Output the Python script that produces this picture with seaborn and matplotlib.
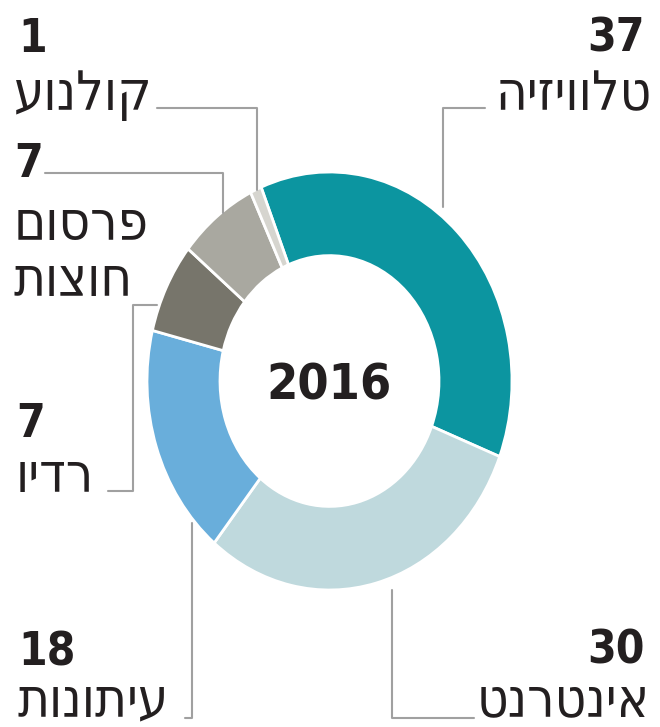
import matplotlib
matplotlib.use("Agg")
import matplotlib.pyplot as plt
import seaborn as sns

# media share, 2016 (clockwise from top)
labels = ["טלוויזיה", "אינטרנט", "עיתונות", "רדיו", "פרסום\nחוצות", "קולנוע"]
values = [37, 30, 18, 7, 7, 1]
colors = ["#0c95a0", "#bfd9dd", "#69aedb", "#77756b", "#a9a8a0", "#d6d5cf"]
center_text = "2016"

sns.set_theme(style="white")
plt.rcParams["font.family"] = ["DejaVu Sans"]
plt.rcParams["font.stretch"] = "condensed"
ink = "#231f20"
line_col = "#a0a0a0"


def heb(s):
    # matplotlib has no bidi support, so flip each line for display
    return "\n".join(part[::-1] for part in s.split("\n"))


fig = plt.figure(figsize=(6.6, 7.27), dpi=100)

# donut axes (slightly taller than wide, like the source)
axp = fig.add_axes([147 / 660, 1 - 590 / 727, 365 / 660, 418 / 727])
axp.pie(values, colors=sns.color_palette(colors), startangle=112, counterclock=False,
        wedgeprops=dict(width=0.4, edgecolor="white", linewidth=2))
axp.set_aspect("auto")
axp.set_xlim(-1, 1)
axp.set_ylim(-1, 1)
axp.axis("off")
axp.text(0, -0.02, center_text, ha="center", va="center", fontsize=36,
         fontweight="bold", color=ink)

# overlay axes in pixel units for labels and leader lines
ax = fig.add_axes([0, 0, 1, 1])
ax.set_xlim(0, 660)
ax.set_ylim(727, 0)
ax.axis("off")
ax.patch.set_alpha(0)

num_kw = dict(fontsize=33, fontweight="bold", color=ink, va="baseline")
lab_kw = dict(fontsize=39, color=ink, va="baseline")

# television
ax.text(645, 52, str(values[0]), ha="right", **num_kw)
ax.text(652, 110, heb(labels[0]), ha="right", **lab_kw)
ax.plot([485, 443, 443], [108, 108, 207], color=line_col, lw=1.5)

# internet
ax.text(645, 663, str(values[1]), ha="right", **num_kw)
ax.text(650, 716, heb(labels[1]), ha="right", **lab_kw)
ax.plot([392, 392, 474], [590, 718, 718], color=line_col, lw=1.5)

# newspapers
ax.text(18, 666, str(values[2]), ha="left", **num_kw)
ax.text(18, 716, heb(labels[2]), ha="left", **lab_kw)
ax.plot([192, 192, 185], [523, 718, 718], color=line_col, lw=1.5)

# radio
ax.text(16, 437, str(values[3]), ha="left", **num_kw)
ax.text(16, 492, heb(labels[3]), ha="left", **lab_kw)
ax.plot([157, 133, 133, 108], [305, 305, 491, 491], color=line_col, lw=1.5)

# outdoor
ax.text(14, 177, str(values[4]), ha="left", **num_kw)
ax.text(14, 240, heb(labels[4]).split("\n")[0], ha="left", **lab_kw)
ax.text(14, 296, heb(labels[4]).split("\n")[1], ha="left", **lab_kw)
ax.plot([45, 223, 223], [173, 173, 213], color=line_col, lw=1.5)

# cinema
ax.text(18, 52, str(values[5]), ha="left", **num_kw)
ax.text(14, 110, heb(labels[5]), ha="left", **lab_kw)
ax.plot([157, 257, 257], [108, 108, 190], color=line_col, lw=1.5)

fig.savefig("out.png", dpi=100, facecolor="white")
